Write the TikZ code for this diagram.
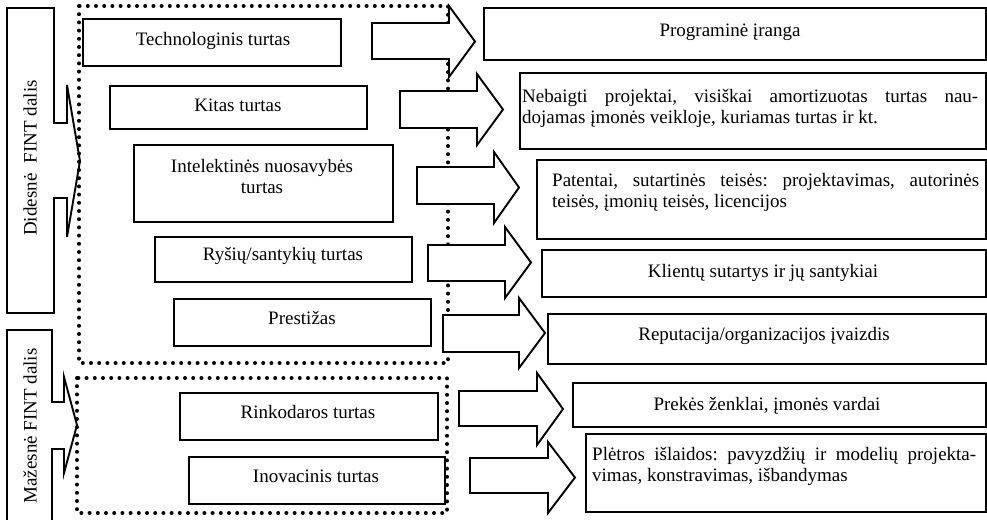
\documentclass[tikz,border=0pt]{standalone}
\usepackage{fontspec}
\setmainfont{Liberation Serif}
\frenchspacing
\begin{document}
\begin{tikzpicture}[x=1pt,y=-1pt,
  txt/.style={font=\fontsize{19}{21}\selectfont, inner sep=0pt, text height=13pt, text depth=4pt},
  para/.style={font=\fontsize{19}{21}\selectfont, inner sep=0pt, align=justify, anchor=north west},
  box/.style={draw, line width=1.9pt, fill=white, inner sep=0pt, anchor=north west},
  dotbox/.style={line width=4pt, line cap=round, dash pattern=on 0pt off 8.2pt},
  fatarrow/.style={draw, line width=1.9pt, fill=white, line join=miter},
  sidearrow/.style={draw, line width=1.9pt, line join=miter}]
\useasboundingbox (0,0) rectangle (987,519);

% block arrow: shaft left, shaft top, shaft bottom, head base, head top, head bottom, tip
\newcommand{\blockarrow}[7]{%
  \path[fatarrow] (#1,#2) -- (#4,#2) -- (#4,#5) -- (#7,{(#5+#6)/2})
    -- (#4,#6) -- (#4,#3) -- (#1,#3) -- cycle;}

% groups of assets
\draw[dotbox] (79,6) rectangle (448,363);
\draw[dotbox] (77,378) rectangle (447,513);

% side bars with their pointers
\path[sidearrow] (7,8) -- (54,8) -- (54,123) -- (67,123) -- (67,85) -- (80,161)
  -- (67,237) -- (67,198) -- (54,198) -- (54,313) -- (7,313) -- cycle;
\path[sidearrow] (7,521) -- (7,330) -- (52,330) -- (52,402) -- (64,402) -- (64,377)
  -- (77,425) -- (64,473) -- (64,449) -- (52,449) -- (52,521);
\node[txt, rotate=90] (didesne) at (32,158) {Didesnė\hspace{0.55em}FINT dalis};
\node[txt, rotate=90] (mazesne) at (32,426) {Mažesnė FINT dalis};

% asset categories
\node[box, minimum width=258pt, minimum height=47pt] (tech) at (82,18) {};
\node[box, minimum width=257pt, minimum height=43pt] (kitas) at (109,85) {};
\node[box, minimum width=259pt, minimum height=77pt] (intel) at (133,144) {};
\node[box, minimum width=257pt, minimum height=45pt] (rysiai) at (154,236) {};
\node[box, minimum width=257pt, minimum height=47pt] (prestizas) at (173,298) {};
\node[box, minimum width=258pt, minimum height=47pt] (rinkodara) at (179,392) {};
\node[box, minimum width=256pt, minimum height=47pt] (inovacijos) at (188,456) {};

\node[txt] (techT) at (213,41) {Technologinis turtas};
\node[txt] (kitasT) at (238,107) {Kitas turtas};
\node[txt, align=center, text height=, text depth=] (intelT) at (262,176) {Intelektinės nuosavybės\\turtas};
\node[txt] (rysiaiT) at (283,256) {Ryšių/santykių turtas};
\node[txt] (prestizasT) at (302,320) {Prestižas};
\node[txt] (rinkodaraT) at (308,414) {Rinkodaros turtas};
\node[txt] (inovacijosT) at (316,478) {Inovacinis turtas};

% arrows towards the examples
\blockarrow{372}{23}{59}{449}{6}{77}{475}
\blockarrow{400}{91}{128}{477}{74}{145}{503}
\blockarrow{417}{167}{204}{494}{152}{223}{519}
\blockarrow{428}{245}{281}{505}{227}{298}{531}
\blockarrow{443}{315}{352}{519}{298}{368}{545}
\blockarrow{459}{391}{426}{537}{373}{445}{563}
\blockarrow{470}{458}{493}{548}{442}{513}{575}

% examples
\node[box, minimum width=502pt, minimum height=52pt] (programos) at (483,7) {};
\node[box, minimum width=466pt, minimum height=76pt] (projektai) at (519,72) {};
\node[box, minimum width=449pt, minimum height=79pt] (patentai) at (536,159) {};
\node[box, minimum width=444pt, minimum height=47pt] (klientai) at (541,249) {};
\node[box, minimum width=438pt, minimum height=50pt] (reputacija) at (547,313) {};
\node[box, minimum width=413pt, minimum height=44pt] (zenklai) at (572,382) {};
\node[box, minimum width=400pt, minimum height=78pt] (pletra) at (585,433) {};

\node[txt] (programosT) at (730,32) {Programinė įranga};
\node[para, text width=456pt] (projektaiT) at (522,89)
  {Nebaigti projektai, visiškai amortizuotas turtas nau-\linebreak dojamas įmonės veikloje, kuriamas turtas ir kt.};
\node[para, text width=427pt] (patentaiT) at (552,173)
  {Patentai, sutartinės teisės: projektavimas, autorinės\linebreak teisės, įmonių teisės, licencijos};
\node[txt] (klientaiT) at (763,273) {Klientų sutartys ir jų santykiai};
\node[txt] (reputacijaT) at (764,336) {Reputacija/organizacijos įvaizdis};
\node[txt] (zenklaiT) at (767,406) {Prekės ženklai, įmonės vardai};
\node[para, text width=384pt] (pletraT) at (592,447)
  {Plėtros išlaidos: pavyzdžių ir modelių projekta-\linebreak vimas, konstravimas, išbandymas};
\end{tikzpicture}
\end{document}
